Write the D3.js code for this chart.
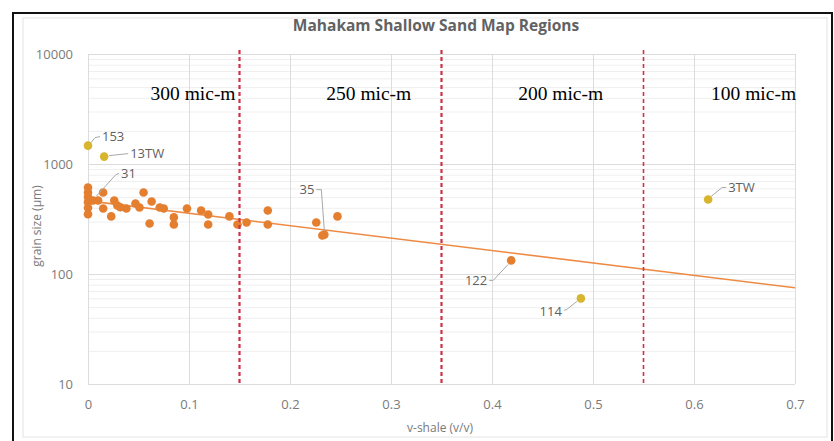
<!DOCTYPE html>
<html>
<head>
<meta charset="utf-8">
<script src="https://cdn.jsdelivr.net/npm/d3@7"></script>
<style>
  body { margin: 0; background: #fff; }
  svg { display: block; }
</style>
</head>
<body>
<svg id="graph"></svg>
<script>
// v-shale (v/v) and grain size (µm)
var sandX = [0, 0, 0, 0, 0, 0, 0.005, 0.010, 0.015, 0.015, 0.023, 0.026, 0.029, 0.032, 0.038,
             0.047, 0.051, 0.055, 0.061, 0.063, 0.071, 0.075, 0.085, 0.085, 0.098, 0.112, 0.119,
             0.119, 0.140, 0.148, 0.157, 0.178, 0.178, 0.226, 0.232, 0.234, 0.247, 0.419];
var sandY = [611, 550, 500, 450, 400, 350, 466, 466, 550, 394, 334, 466, 420, 405, 394,
             437, 402, 550, 288, 456, 402, 394, 327, 282, 394, 378, 348,
             282, 334, 282, 294, 378, 282, 294, 224, 228, 334, 133];
var outX = [0, 0.016, 0.488, 0.614];
var outY = [1469, 1167, 60, 476];

// labelled wells
var labelNames = ["153", "13TW", "31", "35", "122", "114", "3TW"];
var labelX = [0, 0.016, 0.005, 0.234, 0.419, 0.488, 0.614];
var labelY = [1469, 1167, 466, 228, 133, 60, 476];

// trend line end points
var trendX = [0, 0.7];
var trendY = [462, 75];

// map region cut-offs
var cutX = [0.15, 0.35, 0.55];
var regionNames = ["300 mic-m", "250 mic-m", "200 mic-m", "100 mic-m"];
var regionX = [0.104, 0.278, 0.468, 0.659];

var xTicks = [0, 0.1, 0.2, 0.3, 0.4, 0.5, 0.6, 0.7];
var yTicks = [10, 100, 1000, 10000];

function setGraph(){
    var w = 834, h = 441;
    var svg = d3.select("#graph").attr("width", w).attr("height", h);

    var x = d3.scaleLinear().domain([0, 0.7]).range([88, 795]);
    var y = d3.scaleLog().domain([10, 10000]).range([384, 54]);

    // chart area frame
    svg.append("rect").attr("x", 23).attr("y", 18).attr("width", 804).attr("height", 419)
        .attr("fill", "#fff").attr("stroke", "#e4e4e4").attr("stroke-width", 1);
    svg.append("path").attr("d", "M13,441V13H832V441")
        .attr("fill", "none").attr("stroke", "#111").attr("stroke-width", 2);

    // minor gridlines
    var minor = [];
    [10, 100, 1000].forEach(function(d){
        for (var k = 2; k < 10; k++) minor.push(d * k);
    });
    svg.append("g").selectAll("line").data(minor).enter().append("line")
        .attr("x1", 88).attr("x2", 795)
        .attr("y1", function(d){ return y(d) + 0.5; })
        .attr("y2", function(d){ return y(d) + 0.5; })
        .attr("stroke", "#efefef").attr("stroke-width", 1);

    // major gridlines
    svg.append("g").selectAll("line").data(yTicks).enter().append("line")
        .attr("x1", 88).attr("x2", 795)
        .attr("y1", function(d){ return y(d) + 0.5; })
        .attr("y2", function(d){ return y(d) + 0.5; })
        .attr("stroke", "#dcdcdc").attr("stroke-width", 1);
    svg.append("g").selectAll("line").data(xTicks).enter().append("line")
        .attr("y1", 54).attr("y2", 384)
        .attr("x1", function(d){ return x(d) + 0.5; })
        .attr("x2", function(d){ return x(d) + 0.5; })
        .attr("stroke", "#dcdcdc").attr("stroke-width", 1);

    // axes, Excel style: labels only
    var axisX = d3.axisBottom(x).tickValues(xTicks).tickSize(0).tickPadding(16)
        .tickFormat(function(d){ return d3.format("~g")(d); });
    var gx = svg.append("g").attr("transform", "translate(0,384)").call(axisX);
    var axisY = d3.axisLeft(y).tickValues(yTicks).tickSize(0).tickPadding(15)
        .tickFormat(d3.format("d"));
    var gy = svg.append("g").attr("transform", "translate(88,0)").call(axisY);
    [gx, gy].forEach(function(g){
        g.select(".domain").remove();
        g.selectAll("text").attr("fill", "#7a7a7a")
            .attr("font-family", "Open Sans").attr("font-size", 13);
    });

    // axis titles
    svg.append("text").attr("text-anchor", "middle")
        .attr("transform", "translate(440,432)")
        .attr("font-family", "Open Sans").attr("font-size", 12).attr("fill", "#7a7a7a")
        .text("v-shale (v/v)");
    svg.append("text").attr("text-anchor", "middle")
        .attr("transform", "translate(41,226) rotate(-90)")
        .attr("font-family", "Open Sans").attr("font-size", 12).attr("fill", "#7a7a7a")
        .text("grain size (µm)");

    // title
    svg.append("text").attr("text-anchor", "middle")
        .attr("transform", "translate(436,31)")
        .attr("font-family", "Open Sans").attr("font-weight", "bold")
        .attr("font-size", 15.5).attr("fill", "#626262")
        .text("Mahakam Shallow Sand Map Regions");

    // trend line
    var line = d3.line()
        .x(function(d, i){ return x(trendX[i]); })
        .y(function(d, i){ return y(trendY[i]); });
    svg.append("path").attr("d", line(trendX))
        .attr("fill", "none").attr("stroke", "#ED8B45").attr("stroke-width", 1.6);

    // points
    svg.append("g").selectAll("circle").data(sandX).enter().append("circle")
        .attr("cx", function(d){ return x(d); })
        .attr("cy", function(d, i){ return y(sandY[i]); })
        .attr("r", 4.3).attr("fill", "#E57F30");
    svg.append("g").selectAll("circle").data(outX).enter().append("circle")
        .attr("cx", function(d){ return x(d); })
        .attr("cy", function(d, i){ return y(outY[i]); })
        .attr("r", 4.3).attr("fill", "#D8B52E");

    // data labels with leader lines (offsets in px from the point)
    var lab = {
        "153":  {dx: 14, dy: -9,  anchor: "start", lead: [[3, -3], [7, -8], [12, -9]]},
        "13TW": {dx: 26, dy: -3,  anchor: "start", lead: [[5, -1], [24, -3]]},
        "31":   {dx: 28, dy: -27, anchor: "start", lead: [[3, -4], [23, -26], [26, -27]]},
        "35":   {dx: -10, dy: -45, anchor: "end", lead: [[0, -4], [-3, -45], [-8, -45]]},
        "122":  {dx: -24, dy: 20, anchor: "end", lead: [[-3, 4], [-18, 20], [-22, 20]]},
        "114":  {dx: -19, dy: 13, anchor: "end", lead: [[-4, 3], [-14, 11], [-17, 12]]},
        "3TW":  {dx: 20, dy: -12, anchor: "start", lead: [[3, -3], [14, -12], [18, -12]]}
    };
    var gl = svg.append("g");
    labelNames.forEach(function(name, i){
        var px = x(labelX[i]), py = y(labelY[i]), o = lab[name];
        gl.append("path")
            .attr("d", d3.line()(o.lead.map(function(p){ return [px + p[0], py + p[1]]; })))
            .attr("fill", "none").attr("stroke", "#a8a8a8").attr("stroke-width", 1);
        gl.append("text").attr("x", px + o.dx).attr("y", py + o.dy)
            .attr("dy", "0.35em").attr("text-anchor", o.anchor)
            .attr("font-family", "Open Sans").attr("font-size", 13).attr("fill", "#5f5f5f")
            .text(name);
    });

    // region cut-offs
    svg.append("g").selectAll("line").data(cutX).enter().append("line")
        .attr("x1", function(d){ return x(d); })
        .attr("x2", function(d){ return x(d); })
        .attr("y1", 50).attr("y2", 384)
        .attr("stroke", "#CC3346")
        .attr("stroke-width", function(d, i){ return i < 2 ? 2.2 : 1.6; })
        .attr("stroke-dasharray", "4,3");

    svg.append("g").selectAll("text").data(regionNames).enter().append("text")
        .attr("x", function(d, i){ return x(regionX[i]); })
        .attr("y", 100)
        .attr("text-anchor", "middle")
        .attr("font-family", "Liberation Serif").attr("font-size", 19.5).attr("fill", "#000")
        .text(function(d){ return d; });
}

setGraph();
</script>
</body>
</html>
